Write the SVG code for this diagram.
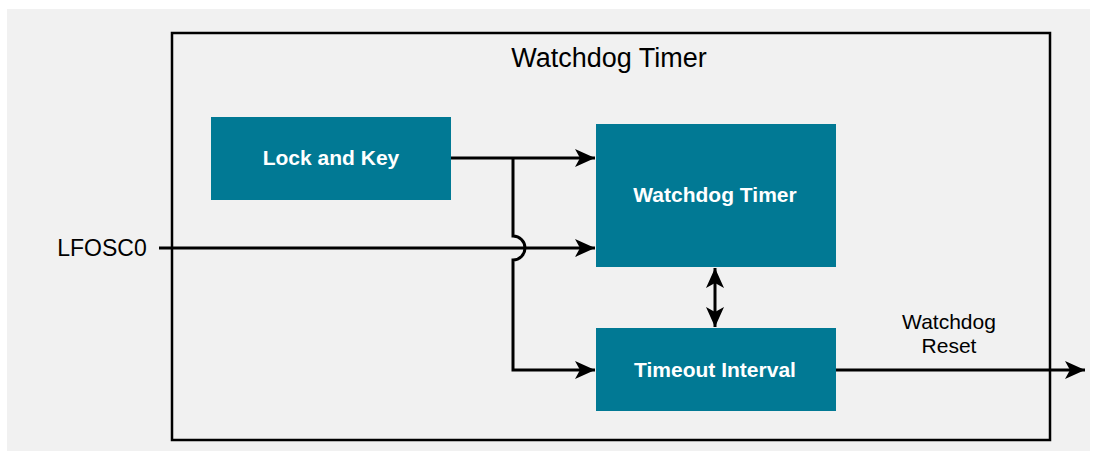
<svg xmlns="http://www.w3.org/2000/svg" width="1096" height="457" viewBox="0 0 1096 457">
<style>
.box{fill:#017994}
.lbl{font-family:"Liberation Sans",Arial,sans-serif;font-weight:bold;font-size:21px;fill:#fff;text-anchor:middle}
.txt{font-family:"Liberation Sans",Arial,sans-serif;font-size:21px;fill:#000;text-anchor:middle}
.ln{fill:none;stroke:#000;stroke-width:3}
</style>
<defs>
<marker id="a" viewBox="0 0 20 18" refX="20" refY="9" markerWidth="20" markerHeight="18" orient="auto-start-reverse" markerUnits="userSpaceOnUse">
<path d="M0,0 L20,9 L0,18 L5,9 Z" fill="#000"/>
</marker>
</defs>
<rect x="7" y="9" width="1083" height="442" fill="#f1f1f1"/>
<g id="frame">
<rect x="172" y="33" width="878" height="407" fill="none" stroke="#000" stroke-width="2.5"/>
<text x="609" y="67" class="txt" style="font-size:27px">Watchdog Timer</text>
</g>
<g id="lock">
<rect class="box" x="211" y="117" width="240" height="83"/>
<text class="lbl" x="331" y="165">Lock and Key</text>
</g>
<g id="wdt">
<rect class="box" x="596" y="124" width="240" height="143"/>
<text class="lbl" x="715" y="202">Watchdog Timer</text>
</g>
<g id="timeout">
<rect class="box" x="596" y="328" width="240" height="83"/>
<text class="lbl" x="715" y="377">Timeout Interval</text>
</g>
<g id="labels">
<text class="txt" x="102" y="256" style="font-size:23px">LFOSC0</text>
<text class="txt" x="949" y="329">Watchdog</text>
<text class="txt" x="949" y="353">Reset</text>
</g>
<g id="connectors">
<path class="ln" d="M451,158 H595" marker-end="url(#a)"/>
<path class="ln" d="M159,248 H595" marker-end="url(#a)"/>
<path class="ln" d="M513,158 V236 A12,12 0 0 1 513,260 V370 H595" marker-end="url(#a)"/>
<path class="ln" d="M715,268 V327" marker-start="url(#a)" marker-end="url(#a)"/>
<path class="ln" d="M836,370 H1085" marker-end="url(#a)"/>
</g>
</svg>
